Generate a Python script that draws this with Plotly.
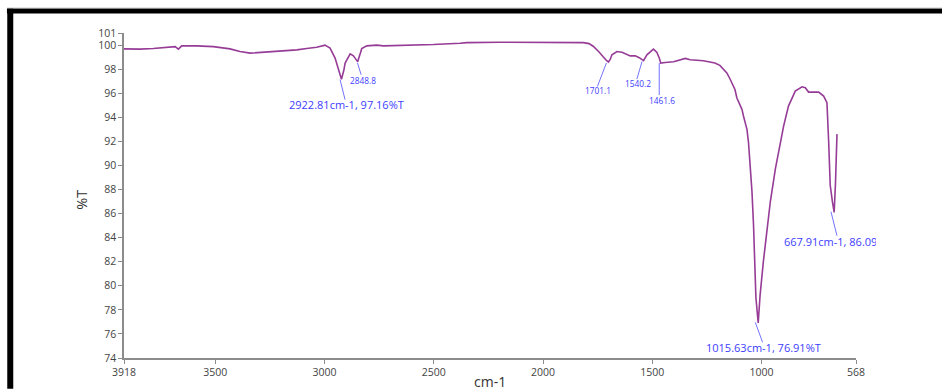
import plotly.graph_objects as go

# FTIR transmission spectrum (wavenumber in cm-1, transmittance in %T)
wavenumber = [
    3918, 3845, 3784, 3707, 3684, 3669, 3654, 3585, 3509, 3433, 3387, 3341,
    3295, 3219, 3127, 3082, 3036, 2998, 2975, 2952, 2938, 2922.81, 2912, 2906,
    2883, 2868, 2858, 2848.8, 2840, 2830, 2807, 2761, 2731, 2654, 2502, 2380,
    2349, 2197, 2044, 1891, 1815, 1790, 1771, 1746, 1725, 1710, 1701.1, 1693, 1685, 1662,
    1639, 1601, 1578, 1560, 1540.2, 1525, 1495, 1479, 1468, 1461.6, 1441, 1403,
    1349, 1327, 1266, 1214, 1191, 1159, 1145, 1122, 1113, 1090, 1083, 1067,
    1060, 1044, 1037, 1026, 1015.63, 1007, 992, 976, 960, 937, 915, 899,
    877, 846, 815, 800, 785, 762, 739, 716, 701, 693, 686, 676, 667.91, 662, 655,
]
transmittance = [
    99.68, 99.66, 99.71, 99.82, 99.87, 99.66, 99.93, 99.93, 99.87, 99.68, 99.46, 99.33,
    99.38, 99.52, 99.60, 99.71, 99.82, 99.99, 99.74, 98.92, 98.10, 97.16, 97.90, 98.50,
    99.27, 99.10, 98.85, 98.62, 99.10, 99.70, 99.93, 99.99, 99.93, 99.96, 100.04, 100.15,
    100.20, 100.23, 100.23, 100.23, 100.20, 100.12, 99.90, 99.46, 99.00, 98.72, 98.59, 98.80, 99.19, 99.46,
    99.40, 99.10, 99.10, 98.95, 98.70, 99.19, 99.66, 99.38, 98.90, 98.50, 98.55, 98.61,
    98.89, 98.78, 98.70, 98.50, 98.31, 97.68, 97.20, 96.31, 95.60, 94.66, 94.11, 93.00,
    91.92, 87.80, 85.05, 79.00, 76.91, 79.20, 82.00, 84.60, 87.00, 89.72, 91.92, 93.29,
    94.93, 96.17, 96.53, 96.45, 96.09, 96.12, 96.09, 95.76, 95.21, 91.92, 88.35, 87.00, 86.09, 88.50, 92.60,
]

# Labelled bands
peak_wn = [2922.81, 2848.8, 1701.1, 1540.2, 1461.6, 1015.63, 667.91]
peak_t = [97.16, 98.62, 98.59, 98.70, 98.50, 76.91, 86.09]
peak_text = [
    "2922.81cm-1, 97.16%T", "2848.8", "1701.1", "1540.2", "1461.6",
    "1015.63cm-1, 76.91%T", "667.91cm-1, 86.09%T",
]

x_ticks = [3918, 3500, 3000, 2500, 2000, 1500, 1000, 568]
y_ticks = [74, 76, 78, 80, 82, 84, 86, 88, 90, 92, 94, 96, 98, 100, 101]

# label placement (pixel offsets from each band position)
leader = [(-1.4, -0.4, 3.6, -20.4), (-0.2, -1, 3.5, -13.1), (-2, -1, -11, -24.4),
          (-1.5, -0.8, -6.7, -18.4), (-1.5, 0, -1.5, -32), (-2.9, 0.6, 4.4, -19.3),
          (-3.2, 0.8, 2.8, -23.2)]
shift = [(4.6, -25.4), (5.8, -19.1), (-10.2, -28.7), (-5.9, -22.4), (1, -37.6),
         (5.8, -24.35), (-52.5, -29.2)]
size = [11, 8.3, 8.3, 8.3, 8.3, 11, 11]

LABEL_BLUE = "#3d3dff"
LEADER_BLUE = "#7373ff"
FONT = "Open Sans"

fig = go.Figure()
fig.add_trace(go.Scatter(
    x=wavenumber, y=transmittance, mode="lines",
    line=dict(color="#963c96", width=1.6), hoverinfo="skip", showlegend=False,
))

shapes = []
annotations = []
for i in range(len(peak_wn)):
    x0, y0, x1, y1 = leader[i]
    shapes.append(dict(
        type="line", xref="x", yref="y",
        xsizemode="pixel", ysizemode="pixel",
        xanchor=peak_wn[i], yanchor=peak_t[i],
        x0=x0, y0=y0, x1=x1, y1=y1,
        line=dict(color=LEADER_BLUE, width=1),
    ))
    ann = dict(
        x=peak_wn[i], y=peak_t[i], xref="x", yref="y",
        text=peak_text[i], showarrow=False,
        xshift=shift[i][0], yshift=shift[i][1],
        font=dict(family=FONT, size=size[i], color=LABEL_BLUE),
    )
    if i == len(peak_wn) - 1:
        # last label runs into the page edge and is cut off there
        ann.update(xanchor="left", align="left", width=92)
    annotations.append(ann)

# page frame: thin grey rule and heavy black bars on top and left
def px_x(p):
    return (p - 124) / 731.7

def px_y(p):
    return (361 - p) / 328

shapes += [
    dict(type="rect", xref="paper", yref="paper", x0=px_x(7), x1=px_x(942),
         y0=px_y(8.5), y1=px_y(7.6), fillcolor="#9a9a9a", line=dict(width=0)),
    dict(type="rect", xref="paper", yref="paper", x0=px_x(7), x1=px_x(942),
         y0=px_y(13.3), y1=px_y(8.5), fillcolor="#000000", line=dict(width=0)),
    dict(type="rect", xref="paper", yref="paper", x0=px_x(7.3), x1=px_x(13.3),
         y0=px_y(392), y1=px_y(8.5), fillcolor="#000000", line=dict(width=0)),
]

annotations += [
    dict(text="cm-1", xref="paper", yref="paper", x=0.5, y=px_y(385),
         xanchor="center", yanchor="middle", showarrow=False,
         font=dict(family=FONT, size=14, color="#333333")),
    dict(text="%T", xref="paper", yref="paper", x=px_x(80.7), y=px_y(201.7),
         xanchor="center", yanchor="middle", showarrow=False, textangle=-90,
         font=dict(family=FONT, size=14.5, color="#333333")),
]

axis_common = dict(
    showgrid=False, zeroline=False, showline=True, linecolor="#8c8c8c",
    linewidth=1.5, ticks="outside", ticklen=4, tickcolor="#8c8c8c", tickwidth=1,
    tickfont=dict(family=FONT, size=10.5, color="#444444"),
)

fig.update_layout(
    width=942, height=391,
    margin=dict(l=124, r=86, t=33, b=30),
    paper_bgcolor="white", plot_bgcolor="white",
    xaxis=dict(range=[3918, 568], tickmode="array", tickvals=x_ticks,
               ticktext=[str(v) for v in x_ticks], **axis_common),
    yaxis=dict(range=[74, 101], tickmode="array", tickvals=y_ticks,
               ticktext=[str(v) for v in y_ticks], ticklabelstandoff=0,
               **axis_common),
    shapes=shapes, annotations=annotations,
)

fig.write_html("out.html")
